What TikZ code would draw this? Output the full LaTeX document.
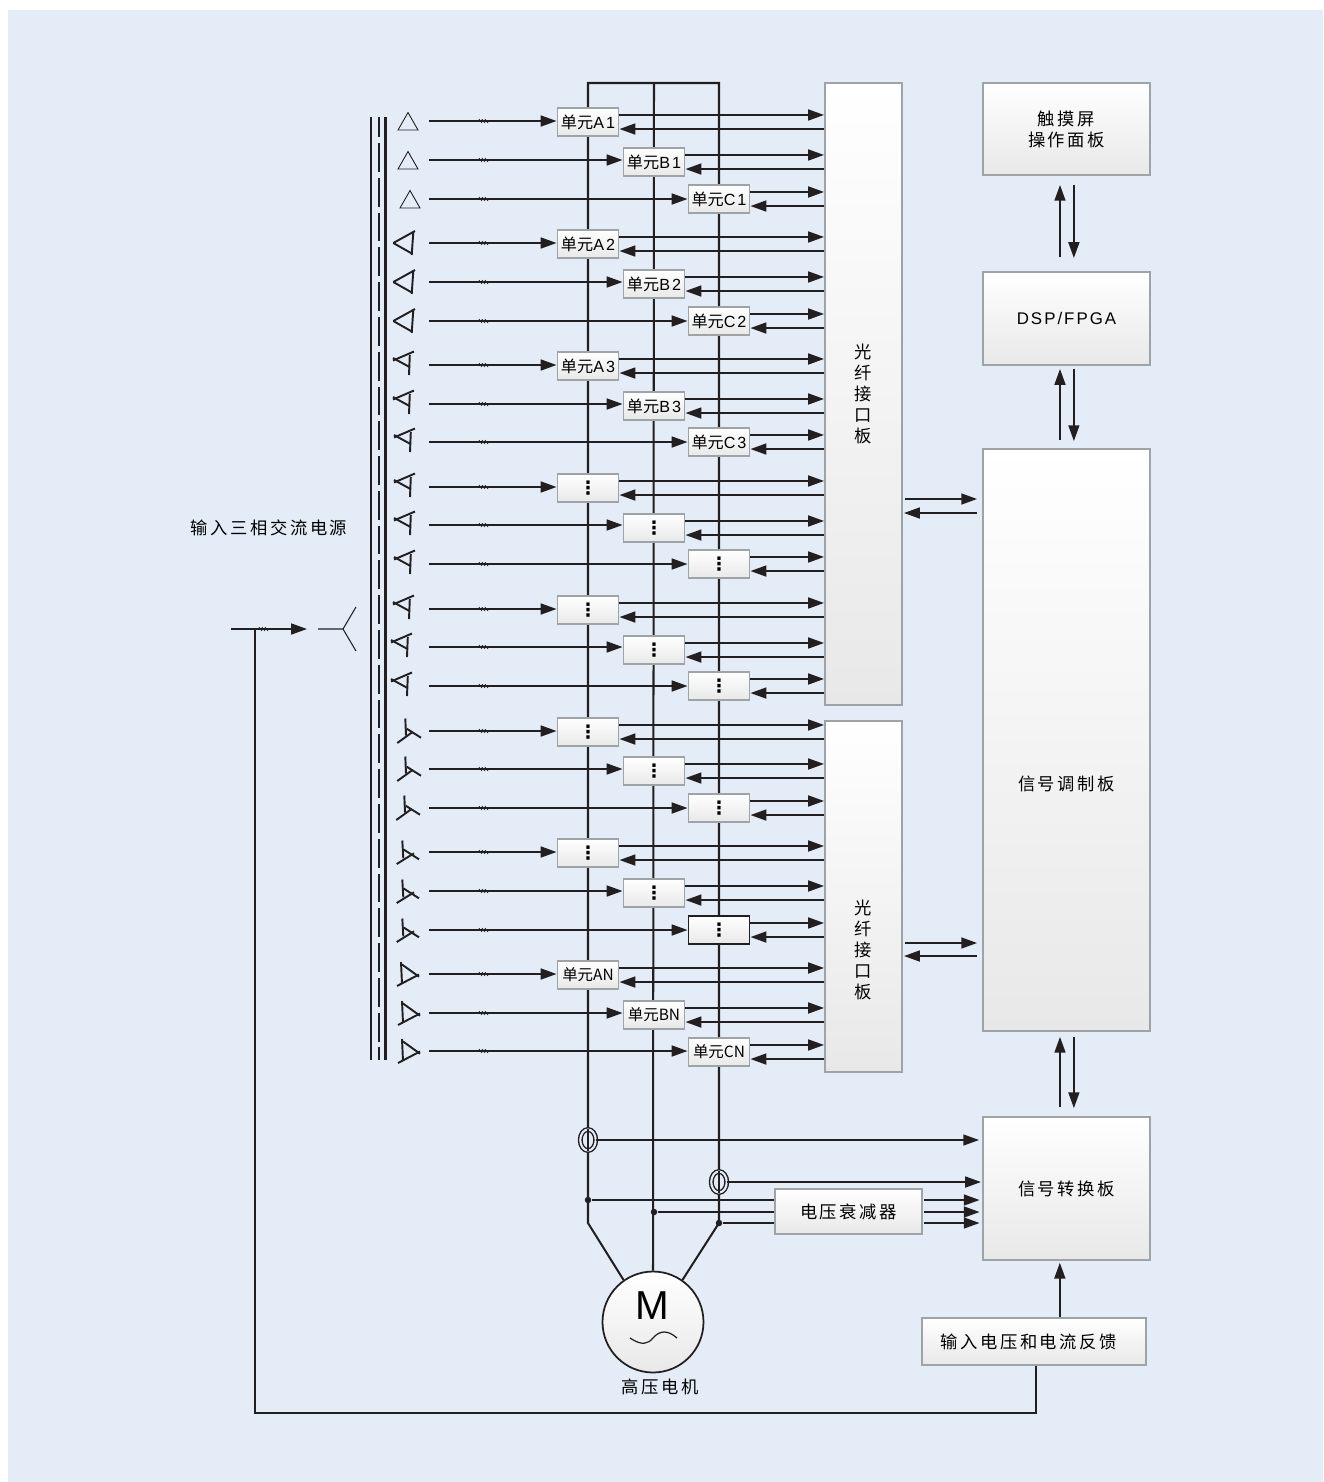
\documentclass[tikz,border=0pt]{standalone}
\usepackage{fontspec}
\usetikzlibrary{shapes.geometric, arrows.meta, positioning}
\setmainfont{Liberation Sans}
\newfontfamily\cjk{Noto Sans CJK SC}
\newfontfamily\cjkwide{Noto Sans CJK SC}[LetterSpace=15]
\newfontfamily\latwide{Liberation Sans}[LetterSpace=12]
\newfontfamily\dotfont{DejaVu Sans Bold}
\definecolor{bgblue}{RGB}{228,236,247}
\definecolor{edge}{RGB}{158,163,166}
\definecolor{ink}{RGB}{35,31,32}
\newcommand{\unitname}[1]{{\cjk 单元}{\latwide #1}}
\newcommand{\unitbold}[1]{{\fontsize{8.8}{10}\selectfont\cjk 单元#1}}
\newcommand{\more}{{\dotfont\fontsize{10.5}{12}\selectfont ⋮}}

\tikzset{
  ticks/.pic={\foreach \i in {-4,-1,2}{\draw[line width=.4pt,ink] (\i-1,-2) -- (\i+2,2);}},
  delta/.pic={\draw[line width=.5pt,ink] (-10,9) -- (0,-8.5) -- (10,9) -- cycle;},
  tria/.pic={\draw[phase] (-11.7,0) -- (10,-12); \draw[phase] (-11.7,0) -- (7.7,11); \draw[phase] (8.3,-11) -- (6.7,12);},
  stara/.pic={\draw[phase] (9,-13.5) -- (-12,-4.5); \draw[phase] (-12,-7) -- (4.5,2); \draw[phase] (4.8,-10) -- (4,10);},
  starb/.pic={\draw[phase] (.3,-12.5) -- (1,4.5); \draw[phase] (-7.7,12) -- (7.5,1); \draw[phase] (1.7,-2.3) -- (16,6.7);},
  starc/.pic={\draw[phase] (-2.7,-11.5) -- (-1.7,6.3); \draw[phase] (-8.3,12) -- (9,1.3); \draw[phase] (-1.7,-2.7) -- (14,7.3);},
  stard/.pic={\draw[phase] (-4,-12) -- (-3,10); \draw[phase] (-8,12) -- (14,.5); \draw[phase] (-3,-9.5) -- (14,2.7);}
}

\begin{document}
\begin{tikzpicture}[
  x=0.02cm, y=-0.02cm,
  phase/.style={line width=1.1pt,draw=ink},
  panel/.style={rectangle,draw=edge,line width=1.1pt,top color=white,bottom color=black!9,inner sep=0pt,align=center,font=\fontsize{9.85}{11.9}\selectfont\cjkwide},
  unit/.style={rectangle,draw=edge,line width=1.1pt,top color=white,bottom color=black!9,inner sep=0pt,minimum width=1.22cm,minimum height=0.57cm,font=\fontsize{9.2}{10}\selectfont},
  unitdark/.style={unit,draw=ink},
  txt/.style={inner sep=0pt,align=center,font=\fontsize{9.85}{11.9}\selectfont\cjkwide},
  main/.style={line width=1.15pt,draw=ink},
  rail/.style={line width=1.15pt,draw=ink},
  sig/.style={line width=1.05pt,draw=ink,-{Stealth[length=9pt,width=6.2pt,inset=0pt]}},
  sensor/.style={ellipse,draw=ink,line width=.8pt,double=bgblue,double distance=1.2pt,fill=bgblue,inner sep=0pt,minimum width=0.31cm,minimum height=0.42cm},
  tap/.style={circle,fill=ink,inner sep=0pt,minimum size=0.13cm}
]
  \useasboundingbox (0,0) rectangle (1323,1482);
  \fill[bgblue] (8,10) rectangle (1323,1482);

  % boards on the right
  \node[panel,minimum width=1.54cm,minimum height=12.44cm](fiba) at (863.5,394) {光\\纤\\接\\口\\板};
  \node[panel,minimum width=1.54cm,minimum height=7.02cm](fibb)  at (863.5,896.5) {};
  \node[txt](fibbtxt) at (863.5,950) {光\\纤\\接\\口\\板};
  \node[panel,minimum width=3.34cm,minimum height=1.84cm](touch) at (1066.5,129) {触摸屏\\操作面板};
  \node[panel,minimum width=3.34cm,minimum height=1.86cm,font=\fontsize{9.6}{11.9}\selectfont\latwide](dsp) at (1066.5,318.5) {DSP/FPGA};
  \node[panel,minimum width=3.34cm,minimum height=11.64cm](modu) at (1066.5,740) {};
  \node[txt](modutxt) at (1066.5,784) {信号调制板};
  \node[panel,minimum width=3.34cm,minimum height=2.86cm](conv) at (1066.5,1188.5) {信号转换板};
  \node[panel,minimum width=2.94cm,minimum height=0.9cm](atten) at (848.5,1211.5) {电压衰减器};
  \node[panel,minimum width=4.48cm,minimum height=0.94cm](feed) at (1034,1341.5) {输入电压和电流反馈\kern6pt};
  \node[circle,draw=ink,line width=1pt,top color=white,bottom color=black!9,inner sep=0pt,minimum size=2.02cm](motor) at (653,1322) {};
  \node[inner sep=0pt,font=\fontsize{23}{24}\selectfont](mlab) at (652.5,1306) {M};
  \node[txt](mname) at (660,1387) {高压电机};
  \node[txt](srcname) at (269,528) {输入三相交流电源};
  \coordinate (wavea) at (630,1338);
  \coordinate (waveb) at (677,1338);
  \draw[line width=.7pt,ink] (wavea) .. controls (642,1346) and (648,1344) .. (653,1338) .. controls (660,1330) and (668,1330) .. (waveb);

  % three motor phases
  \coordinate (busa) at (588,83);
  \coordinate (busb) at (654,83);
  \coordinate (busc) at (719,83);
  \coordinate (benda) at (588,1223);
  \coordinate (bendc) at (719,1223);
  \draw[main] (motor.125) -- (benda) -- (busa) -- (busc) -- (bendc) -- (motor.55);
  \draw[main] (busb) -- (motor.north);

  % transformer rails
  \coordinate (railtop) at (379,117);
  \coordinate (railend) at (379,1060);
  \draw[rail] ([xshift=-4.6pt]railtop) -- ([xshift=-4.6pt]railend);
  \draw[rail] ([xshift=3.7pt]railtop) -- ([xshift=3.7pt]railend);
  \draw[rail,dash pattern=on 16.4pt off 3.4pt,dash phase=5pt] (railtop) -- (railend);

  % rows: name/label/box x/box y/row y/symbol x/symbol/board/style
  \foreach \nm/\lab/\bx/\by/\ry/\sx/\sym/\pan/\sty in {
    a1/\unitname{A1}/588/122/121/408/delta/fiba/unit,
    b1/\unitname{B1}/654/162/160/408/delta/fiba/unit,
    c1/\unitname{C1}/719/199/199/410/delta/fiba/unit,
    a2/\unitname{A2}/588/244/243/405/tria/fiba/unit,
    b2/\unitname{B2}/654/284/282/405/tria/fiba/unit,
    c2/\unitname{C2}/719/321/321/405/tria/fiba/unit,
    a3/\unitname{A3}/588/366/365/405/stara/fiba/unit,
    b3/\unitname{B3}/654/406/404/405/stara/fiba/unit,
    c3/\unitname{C3}/719/442/442/406/stara/fiba/unit,
    a4/\more/588/488/487/406/stara/fiba/unit,
    b4/\more/654/528/525/406/stara/fiba/unit,
    c4/\more/719/564/564/406/stara/fiba/unit,
    a5/\more/588/610/609/405/stara/fiba/unit,
    b5/\more/654/650/647/403/stara/fiba/unit,
    c5/\more/719/686/686/403/stara/fiba/unit,
    a6/\more/588/732/731/405/starb/fibb/unit,
    b6/\more/654/771/769/405/starb/fibb/unit,
    c6/\more/719/808/808/404/starb/fibb/unit,
    a7/\more/588/853/852/405/starc/fibb/unit,
    b7/\more/654/893/891/405/starc/fibb/unit,
    c7/\more/719/930/930/405/starc/fibb/unitdark,
    a8/\unitbold{AN}/588/975/974/405/stard/fibb/unit,
    b8/\unitbold{BN}/654/1015/1013/406/stard/fibb/unit,
    c8/\unitbold{CN}/719/1052/1051/406/stard/fibb/unit}{
    \node[\sty](\nm) at (\bx,\by) {\lab};
    \coordinate (in\nm) at (429,\ry);
    \coordinate (up\nm) at ([yshift=4pt]\nm.east);
    \coordinate (dn\nm) at ([yshift=-4pt]\nm.east);
    \pic at (\sx,\ry) {\sym};
    \draw[sig] (in\nm) -- (\nm.west |- in\nm);
    \pic at (484,\ry) {ticks};
    \draw[sig] (up\nm) -- (up\nm -| \pan.west);
    \draw[sig] (dn\nm -| \pan.west) -- (dn\nm);
  }

  % input source
  \coordinate (srcin) at (231,629);
  \coordinate (srctip) at (307,629);
  \coordinate (srctap) at (255,629);
  \coordinate (ystem) at (318,629);
  \coordinate (ycen) at (343,629);
  \coordinate (fbturn) at (1036,1413);
  \draw[sig] (srcin) -- (srctip);
  \pic at (264,629) {ticks};
  \draw[line width=.6pt,ink] (ystem) -- (ycen) -- (356,607);
  \draw[line width=.6pt,ink] (ycen) -- (356,651);
  \draw[main] (feed.south -| fbturn) -- (fbturn) -- (srctap |- fbturn) -- (srctap);

  % links between boards
  \draw[sig,shorten <=7.9pt,shorten >=5.1pt] ([xshift=-3.7pt]dsp.north) -- ([xshift=-3.7pt]touch.south);
  \draw[sig,shorten <=5.1pt,shorten >=7.4pt] ([xshift=4.2pt]touch.south) -- ([xshift=4.2pt]dsp.north);
  \draw[sig,shorten <=4.5pt,shorten >=1.7pt] ([xshift=-3.7pt]modu.north) -- ([xshift=-3.7pt]dsp.south);
  \draw[sig,shorten <=1.7pt,shorten >=4pt] ([xshift=4.2pt]dsp.south) -- ([xshift=4.2pt]modu.north);
  \draw[sig,shorten <=5.1pt,shorten >=2.8pt] ([xshift=-3.7pt]conv.north) -- ([xshift=-3.7pt]modu.south);
  \draw[sig,shorten <=2.8pt,shorten >=4.5pt] ([xshift=4.2pt]modu.south) -- ([xshift=4.2pt]conv.north);
  \coordinate (linka) at (940,499);
  \coordinate (linkb) at (940,513);
  \coordinate (linkc) at (940,943);
  \coordinate (linkd) at (940,956);
  \draw[sig,shorten <=1.1pt,shorten >=2.8pt] (fiba.east |- linka) -- (modu.west |- linka);
  \draw[sig,shorten <=2.8pt,shorten >=.6pt] (modu.west |- linkb) -- (fiba.east |- linkb);
  \draw[sig,shorten <=1.1pt,shorten >=2.8pt] (fibb.east |- linkc) -- (modu.west |- linkc);
  \draw[sig,shorten <=2.8pt,shorten >=.6pt] (modu.west |- linkd) -- (fibb.east |- linkd);
  \draw[sig,shorten >=1pt] ([xshift=14.7pt]feed.north) -- ([xshift=14.7pt]feed.north |- conv.south);

  % current sensors and voltage taps
  \node[sensor](sensa) at (588,1140) {};
  \node[sensor](sensc) at (719,1182) {};
  \draw[line width=1pt,ink] (sensa.north) -- (sensa.south);
  \draw[line width=1pt,ink] (sensc.north) -- (sensc.south);
  \draw[sig,shorten >=1.7pt] (sensa.east) -- (conv.west |- sensa);
  \draw[sig,shorten >=.6pt] (sensc.east) -- (conv.west |- sensc);
  \node[tap](tapa) at (588,1200) {};
  \node[tap](tapb) at (654,1212) {};
  \node[tap](tapc) at (719,1223) {};
  \foreach \t in {tapa,tapb,tapc}{
    \draw[main] (\t) -- (atten.west |- \t);
    \draw[sig,shorten <=.6pt,shorten >=1.4pt] (atten.east |- \t) -- (conv.west |- \t);
  }
\end{tikzpicture}
\end{document}
